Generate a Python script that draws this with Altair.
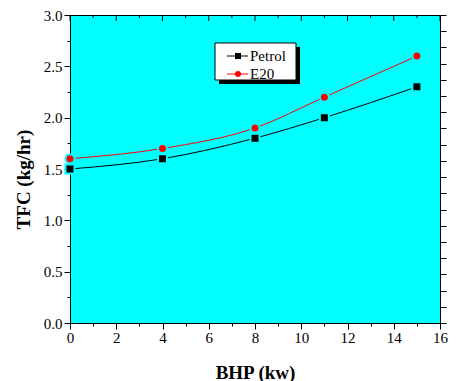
import altair as alt
import pandas as pd

bhp = [0, 4, 8, 11, 15]
petrol = [1.5, 1.6, 1.8, 2.0, 2.3]
e20 = [1.6, 1.7, 1.9, 2.2, 2.6]
series = ["Petrol", "E20"]
colors = ["#000000", "#ff0000"]
shapes = ["square", "circle"]
x_ticks = [0, 1, 2, 3, 4, 5, 6, 7, 8, 9, 10, 11, 12, 13, 14, 15, 16]
x_major = [0, 2, 4, 6, 8, 10, 12, 14, 16]
x_minor = [1, 3, 5, 7, 9, 11, 13, 15]
y_ticks = [0, 0.25, 0.5, 0.75, 1.0, 1.25, 1.5, 1.75, 2.0, 2.25, 2.5, 2.75, 3.0]
right_ticks = list(range(20))

FONT = "Liberation Serif"
CYAN = "#00ffff"

df = pd.DataFrame({
    "BHP": bhp + bhp,
    "TFC": petrol + e20,
    "Fuel": [series[0]] * len(bhp) + [series[1]] * len(bhp),
})

xscale = alt.Scale(domain=[0, 16], nice=False, zero=False)
yscale = alt.Scale(domain=[0, 3], nice=False)
cscale = alt.Scale(domain=series, range=colors)
sscale = alt.Scale(domain=series, range=shapes)

x_axis = alt.Axis(
    values=x_ticks, title="BHP (kw)", grid=False,
    labelExpr="datum.value % 2 == 0 ? datum.label : ''",
    tickSize={"condition": {"test": "datum.value % 2 != 0", "value": 3}, "value": 6},
    labelFont=FONT, labelFontSize=15, labelColor="black", labelPadding=1,
    titleFont=FONT, titleFontSize=19, titleFontWeight="bold", titleColor="black",
    titleBaseline="alphabetic", titleY=55,
    domainColor="black", tickColor="black", labelFlush=False,
)
y_axis = alt.Axis(
    values=y_ticks, title="TFC (kg/hr)", grid=False, format=".1f",
    labelExpr="round(datum.value * 4) % 2 == 0 ? datum.label : ''",
    tickSize={"condition": {"test": "round(datum.value * 4) % 2 != 0", "value": 3}, "value": 6},
    labelFont=FONT, labelFontSize=15, labelColor="black", labelPadding=2,
    titleFont=FONT, titleFontSize=19, titleFontWeight="bold", titleColor="black",
    titleAngle=270, titleAlign="center", titleBaseline="alphabetic",
    titleX=-41, titleY=164,
    domainColor="black", tickColor="black", labelFlush=False,
)

base = alt.Chart(df)
lines = base.mark_line(strokeWidth=1, interpolate="monotone").encode(
    x=alt.X("BHP:Q", scale=xscale, axis=x_axis),
    y=alt.Y("TFC:Q", scale=yscale, axis=y_axis),
    color=alt.Color("Fuel:N", scale=cscale, legend=None),
    detail="Fuel:N",
)
points = base.mark_point(filled=True, size=81, strokeWidth=2, opacity=1).encode(
    x=alt.X("BHP:Q", scale=xscale, axis=x_axis),
    y=alt.Y("TFC:Q", scale=yscale, axis=y_axis),
    fill=alt.Fill("Fuel:N", scale=cscale, legend=None),
    shape=alt.Shape("Fuel:N", scale=sscale, legend=None),
    stroke=alt.value(CYAN),
)

tdf_major = pd.DataFrame({"BHP": x_major})
tdf_minor = pd.DataFrame({"BHP": x_minor})
top_major = alt.Chart(tdf_major).mark_rule(color="black", strokeWidth=1).encode(
    x=alt.X("BHP:Q", scale=xscale, axis=x_axis), y=alt.value(0), y2=alt.value(6))
top_minor = alt.Chart(tdf_minor).mark_rule(color="black", strokeWidth=1).encode(
    x=alt.X("BHP:Q", scale=xscale, axis=x_axis), y=alt.value(0), y2=alt.value(3))

one = pd.DataFrame({"a": [0]})
shadow = alt.Chart(one).mark_rect(color="black").encode(
    x=alt.value(149), x2=alt.value(230), y=alt.value(32), y2=alt.value(69))
box = alt.Chart(one).mark_rect(fill="white", stroke="black", strokeWidth=1).encode(
    x=alt.value(145), x2=alt.value(226), y=alt.value(28), y2=alt.value(65))

legend_layers = []
for name, col, shp, yy in zip(series, colors, shapes, [41, 59]):
    legend_layers.append(alt.Chart(one).mark_rule(color=col, strokeWidth=1).encode(
        x=alt.value(157), x2=alt.value(178), y=alt.value(yy)))
    legend_layers.append(alt.Chart(one).mark_point(filled=True, shape=shp, size=36, color=col, opacity=1).encode(
        x=alt.value(168), y=alt.value(yy)))
    legend_layers.append(alt.Chart(one).mark_text(
        font=FONT, fontSize=15, color="black", align="left", baseline="middle").encode(
        x=alt.value(180), y=alt.value(yy), text=alt.value(name)))

main = alt.layer(lines, points, top_major, top_minor, shadow, box, *legend_layers)

right = alt.Chart(df).mark_point(opacity=0).encode(
    x=alt.value(0),
    y=alt.Y("TFC:Q", scale=alt.Scale(domain=[0, 19], nice=False),
            axis=alt.Axis(orient="right", values=right_ticks, labels=False, tickSize=6,
                          domain=False, grid=False, title=None, tickColor="black")),
)

chart = alt.layer(main, right).resolve_scale(y="independent").properties(
    width=370, height=308,
    autosize=alt.AutoSizeParams(type="none"),
    padding={"left": 62, "top": 7, "right": 8, "bottom": 58},
).configure_view(fill=CYAN, stroke="black", strokeWidth=1)

chart.save("out.html", embed_options={"renderer": "svg", "actions": False})
